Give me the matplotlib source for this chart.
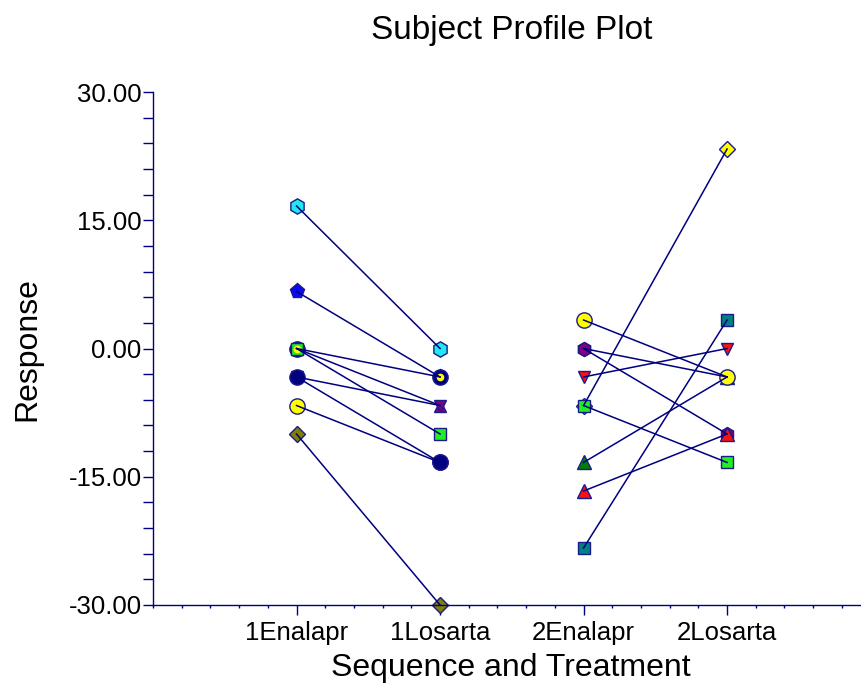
import matplotlib
matplotlib.use("Agg")
import matplotlib.pyplot as plt
import numpy as np

plt.rcParams['font.family'] = ['Liberation Sans', 'DejaVu Sans']
plt.rcParams['axes.unicode_minus'] = False

categories = ["1Enalapr", "1Losarta", "2Enalapr", "2Losarta"]
y_ticks = [-30, -15, 0, 15, 30]

# Sequence 1 subjects: (1Enalapr, 1Losarta)
seq1_first = [16.67, 6.67, 0.00, 0.00, 0.00, -3.33, -3.33, -6.67, -10.00]
seq1_second = [0.00, -3.33, -3.33, -6.67, -10.00, -6.67, -13.33, -13.33, -30.00]
# Sequence 2 subjects: (2Enalapr, 2Losarta)
seq2_first = [3.33, 0.00, 0.00, -3.33, -6.67, -6.67, -13.33, -16.67, -23.33]
seq2_second = [-3.33, -3.33, -10.00, 0.00, -13.33, 23.33, -3.33, -10.00, 3.33]

seq1_style = [
    ('h', '#22E8F0', 11),
    ('p', '#0A0AF0', 11),
    ('o', '#000080', 11),
    ('^', '#800080', 9),
    ('s', '#22EE22', 8.5),
    ('v', '#800080', 8),
    ('o', '#000080', 11),
    ('o', '#FFFF00', 11),
    ('D', '#808000', 8),
]
seq1_order = [0, 1, 3, 5, 7, 8, 6, 2, 4]

seq2_style = [
    ('o', '#FFFF00', 11),
    ('h', '#800080', 10),
    ('h', '#800080', 10),
    ('v', '#FF1010', 9),
    ('s', '#22EE22', 8.5),
    ('D', '#FFFF00', 8),
    ('^', '#008000', 10),
    ('^', '#FF1010', 10),
    ('s', '#008080', 8.5),
]
seq2_order = [1, 5, 2, 3, 4, 6, 7, 8, 0]

edge = '#1A1A8A'
navy = '#000080'

fig = plt.figure(figsize=(8.62, 6.88), dpi=100)
ax = fig.add_axes([153/862, 1-605/688, 1-153/862, (605-92)/688])
ax.set_xlim(0, 4.94)
ax.set_ylim(-30, 30)

def draw(x0, x1, firsts, seconds, styles, order):
    for i in range(len(firsts)):
        ax.plot([x0, x1], [firsts[i], seconds[i]], color=navy, lw=1.1,
                zorder=5, clip_on=False)
    for k, i in enumerate(order):
        m, c, s = styles[i]
        ax.plot([x0, x1], [firsts[i], seconds[i]], linestyle='none',
                marker=m, markersize=s, markerfacecolor=c,
                markeredgecolor=edge, markeredgewidth=1.0,
                zorder=2 + k*0.1, clip_on=False)

draw(1, 2, seq1_first, seq1_second, seq1_style, seq1_order)
draw(3, 4, seq2_first, seq2_second, seq2_style, seq2_order)

# small yellow center for the navy-circle subject
ax.plot([1, 2], [seq1_first[2], seq1_second[2]], linestyle='none', marker='o',
        markersize=4.5, markerfacecolor='#FFFF00', markeredgecolor='#FFFF00',
        zorder=4, clip_on=False)

for sp in ['top', 'right']:
    ax.spines[sp].set_visible(False)
for sp in ['left', 'bottom']:
    ax.spines[sp].set_color(navy)
    ax.spines[sp].set_linewidth(1.0)

ax.set_xticks([1, 2, 3, 4])
ax.set_xticklabels(categories)
ax.set_xticks(np.arange(0, 4.95, 0.2), minor=True)
ax.set_yticks(y_ticks)
ax.set_yticklabels(['%.2f' % v for v in y_ticks])
ax.set_yticks(np.arange(-30, 30.1, 3), minor=True)

ax.tick_params(axis='x', which='major', direction='out', length=7.2, width=1,
               color=navy, labelsize=18.5, pad=4)
ax.tick_params(axis='x', which='minor', direction='out', length=2.2, width=1,
               color=navy)
ax.tick_params(axis='y', which='both', direction='out', length=7.2, width=1,
               color=navy, labelsize=18.5, pad=1)

fig.text(512/862, 1-31/688, "Subject Profile Plot", ha='center', va='center',
         fontsize=24)
fig.text(511/862, 1-668/688, "Sequence and Treatment", ha='center',
         va='center', fontsize=23)
fig.text(27/862, 1-349/688, "Response", ha='center', va='center',
         fontsize=23, rotation=90)

fig.savefig("out.png", dpi=100)
